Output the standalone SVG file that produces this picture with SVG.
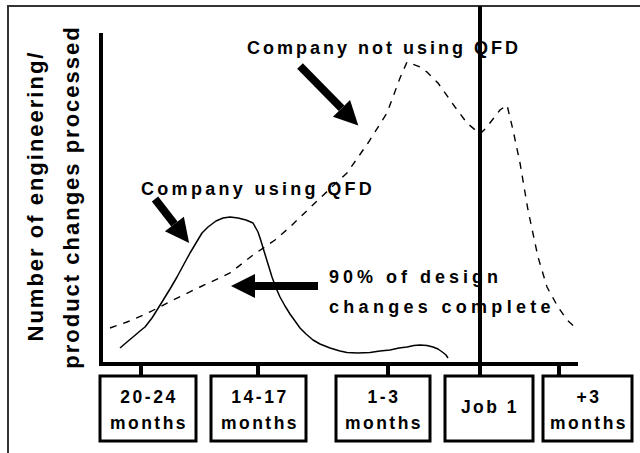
<svg xmlns="http://www.w3.org/2000/svg" width="640" height="453" viewBox="0 0 640 453">
<defs>
<style>
text{font-family:"Liberation Sans",Arial,sans-serif;font-weight:bold;fill:#000}
.lbl{font-size:18px;letter-spacing:3px}
.ax{font-size:22px;letter-spacing:2px}
.bx{font-size:17.5px;letter-spacing:2.5px;text-anchor:middle}
.box{fill:#fff;stroke:#000;stroke-width:3}
.axis{stroke:#000;stroke-width:4;fill:none}
.arr{stroke:#000;stroke-width:8;fill:none}
.solid{stroke:#000;stroke-width:1.5;fill:none;stroke-linejoin:round}
.dash{stroke:#000;stroke-width:1.4;fill:none;stroke-dasharray:7 7}
</style>
<marker id="ah" markerUnits="userSpaceOnUse" viewBox="-1 -13 26 26" refX="0" refY="0" markerWidth="26" markerHeight="26" orient="auto">
<path d="M0,-12 L24,0 L0,12 z" fill="#000"/>
</marker>
</defs>
<rect x="0" y="0" width="640" height="453" fill="#fff"/>
<path d="M8,460 L8,6 L645,6" fill="none" stroke="#333" stroke-width="2"/>

<g id="y-label">
<text class="ax" text-anchor="middle" transform="translate(43,196) rotate(-90)">Number of engineering/</text>
<text class="ax" text-anchor="middle" transform="translate(79,197) rotate(-90)">product changes processed</text>
</g>

<g id="axes">
<line class="axis" x1="101" y1="33" x2="101" y2="366"/>
<line class="axis" x1="99" y1="364" x2="578" y2="364"/>
<line class="axis" x1="480" y1="6" x2="480" y2="366"/>
<line class="axis" x1="141" y1="364" x2="141" y2="376"/>
<line class="axis" x1="258" y1="364" x2="258" y2="376"/>
<line class="axis" x1="388" y1="364" x2="388" y2="376"/>
<line class="axis" x1="480" y1="364" x2="480" y2="376"/>
<line class="axis" x1="559" y1="364" x2="559" y2="376"/>
</g>

<g id="curves">
<polyline id="curve-qfd" class="solid" points="120,348 127,342 133,337 140,331 145,327 152,318 162,302 170,289 177,277 184,264 190,253 196,243 202,233 208,227 216,221 223,218 230,217 238,218 246,220 253,223 258,232 261,241 264,251 268,264 272,277 276,288 280,297 285,306 290,314 295,321 300,328 306,334 313,340 320,344 330,348 340,351 347,352.5 358,353 370,352.5 380,351 390,350 399,348 407,347 414,345.5 420,345 427,345.5 433,347 438,349 443,352.5 446,355 448,358"/>
<polyline id="curve-noqfd" class="dash" points="110,328 127,322 148,313 173,300 200,287 230,273 253,255 275,240 290,227 318,200 347,173 368,143 387,113 400,78 407,62 420,67 427,72 438,83 455,107 467,123 480,134 486,128 500,110 507,105 513,130 520,163 528,210 538,257 547,287 558,307 567,320 577,329"/>
</g>

<g id="arrows">
<line class="arr" x1="300" y1="66" x2="341.5" y2="108.3" marker-end="url(#ah)"/>
<line class="arr" x1="155" y1="199" x2="174.4" y2="224" marker-end="url(#ah)"/>
<line class="arr" x1="318" y1="286" x2="255" y2="286" marker-end="url(#ah)"/>
</g>

<g id="label-not-using">
<text class="lbl" x="247" y="54">Company not using QFD</text>
</g>
<g id="label-using">
<text class="lbl" x="141" y="195" style="letter-spacing:3.3px">Company using QFD</text>
</g>
<g id="label-90">
<text class="lbl" x="329" y="283" style="letter-spacing:4px">90% of design</text>
<text class="lbl" x="329" y="313" style="letter-spacing:4.3px">changes complete</text>
</g>

<g id="box-20-24">
<rect class="box" x="100" y="376" width="96" height="65"/>
<text class="bx" x="149" y="403">20-24</text>
<text class="bx" x="149" y="429">months</text>
</g>
<g id="box-14-17">
<rect class="box" x="211" y="376" width="95" height="65"/>
<text class="bx" x="260" y="403">14-17</text>
<text class="bx" x="260" y="429">months</text>
</g>
<g id="box-1-3">
<rect class="box" x="336" y="376" width="94" height="65"/>
<text class="bx" x="384" y="403">1-3</text>
<text class="bx" x="384" y="429">months</text>
</g>
<g id="box-job1">
<rect class="box" x="445" y="376" width="88" height="65"/>
<text class="bx" x="490" y="413">Job 1</text>
</g>
<g id="box-plus3">
<rect class="box" x="543" y="376" width="89" height="65"/>
<text class="bx" x="589" y="403">+3</text>
<text class="bx" x="589" y="429">months</text>
</g>
</svg>
